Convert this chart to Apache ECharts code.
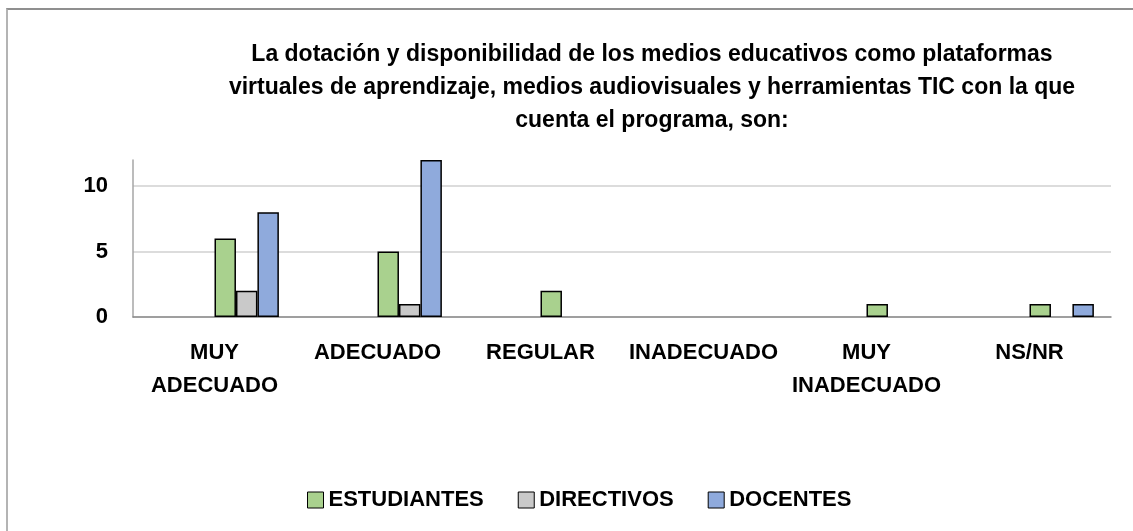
<!DOCTYPE html>
<html>
<head>
<meta charset="utf-8">
<script src="https://cdn.jsdelivr.net/npm/echarts@6/dist/echarts.min.js"></script>
<style>
  html, body { margin: 0; padding: 0; background: #fff; }
  #main { position: absolute; left: 0; top: 0; width: 1133px; height: 531px; }
  #frame { position: absolute; left: 6px; top: 8px; width: 1140px; height: 540px;
           border-top: 2px solid #8f8f8f; border-left: 2px solid #b4b4b4; pointer-events: none; }
</style>
</head>
<body>
<div id="main"></div>
<div id="frame"></div>
<script>
var titleText = 'La dotación y disponibilidad de los medios educativos como plataformas\nvirtuales de aprendizaje, medios audiovisuales y herramientas TIC con la que\ncuenta el programa, son:';
var categories = ['MUY\nADECUADO', 'ADECUADO', 'REGULAR', 'INADECUADO', 'MUY\nINADECUADO', 'NS/NR'];
var estudiantes = [6, 5, 2, 0, 1, 1];
var directivos = [2, 1, 0, 0, 0, 0];
var docentes = [8, 12, 0, 0, 0, 1];
var yTicks = [0, 5, 10];

var font = 'Liberation Sans';

// zero values are not drawn (Excel shows nothing there)
function bars(arr) {
    return arr.map(function (v) { return v === 0 ? '-' : v; });
}
// the original sheet keeps three empty series before the visible ones
function blank(name) {
    return {
        name: name, type: 'bar', barGap: 0, barCategoryGap: '21%',
        data: categories.map(function () { return '-'; })
    };
}
function serie(name, arr, color) {
    return {
        name: name, type: 'bar', barGap: 0, barCategoryGap: '21%',
        itemStyle: { color: color, borderColor: '#000', borderWidth: 1.5 },
        data: bars(arr)
    };
}

var myChart = echarts.init(document.getElementById('main'));
var option = {
    animation: false,
    title: {
        text: titleText,
        left: 647,
        top: 33,
        textAlign: 'center',
        textStyle: { fontFamily: font, fontSize: 23, fontWeight: 'bold', color: '#000', lineHeight: 33, align: 'center' }
    },
    legend: {
        data: ['ESTUDIANTES', 'DIRECTIVOS', 'DOCENTES'],
        left: 302,
        top: 484,
        icon: 'rect',
        itemWidth: 16,
        itemHeight: 16,
        itemGap: 34,
        itemStyle: { borderColor: '#000', borderWidth: 1 },
        textStyle: { fontFamily: font, fontSize: 22, fontWeight: 'bold', color: '#000' }
    },
    grid: { left: 133, right: 22, top: 160, bottom: 214 },
    xAxis: {
        type: 'category',
        data: categories,
        axisTick: { show: false },
        axisLine: { lineStyle: { color: '#8a8a8a', width: 1.5 } },
        axisLabel: { fontFamily: font, fontSize: 22, fontWeight: 'bold', color: '#000', lineHeight: 33, margin: 19, interval: 0 }
    },
    yAxis: {
        type: 'value',
        min: yTicks[0],
        max: 12,
        interval: yTicks[1] - yTicks[0],
        axisLine: { show: true, lineStyle: { color: '#a6a6a6', width: 1.5 } },
        axisTick: { show: false },
        axisLabel: { fontFamily: font, fontSize: 22, fontWeight: 'bold', color: '#000', margin: 25, showMaxLabel: false },
        splitLine: { showMaxLine: false, lineStyle: { color: '#d0d0d0', width: 1.5 } }
    },
    series: [
        blank('s1'), blank('s2'), blank('s3'),
        serie('ESTUDIANTES', estudiantes, '#a9d18e'),
        serie('DIRECTIVOS', directivos, '#c9c9c9'),
        serie('DOCENTES', docentes, '#8faadc')
    ]
};
myChart.setOption(option);
</script>
</body>
</html>
